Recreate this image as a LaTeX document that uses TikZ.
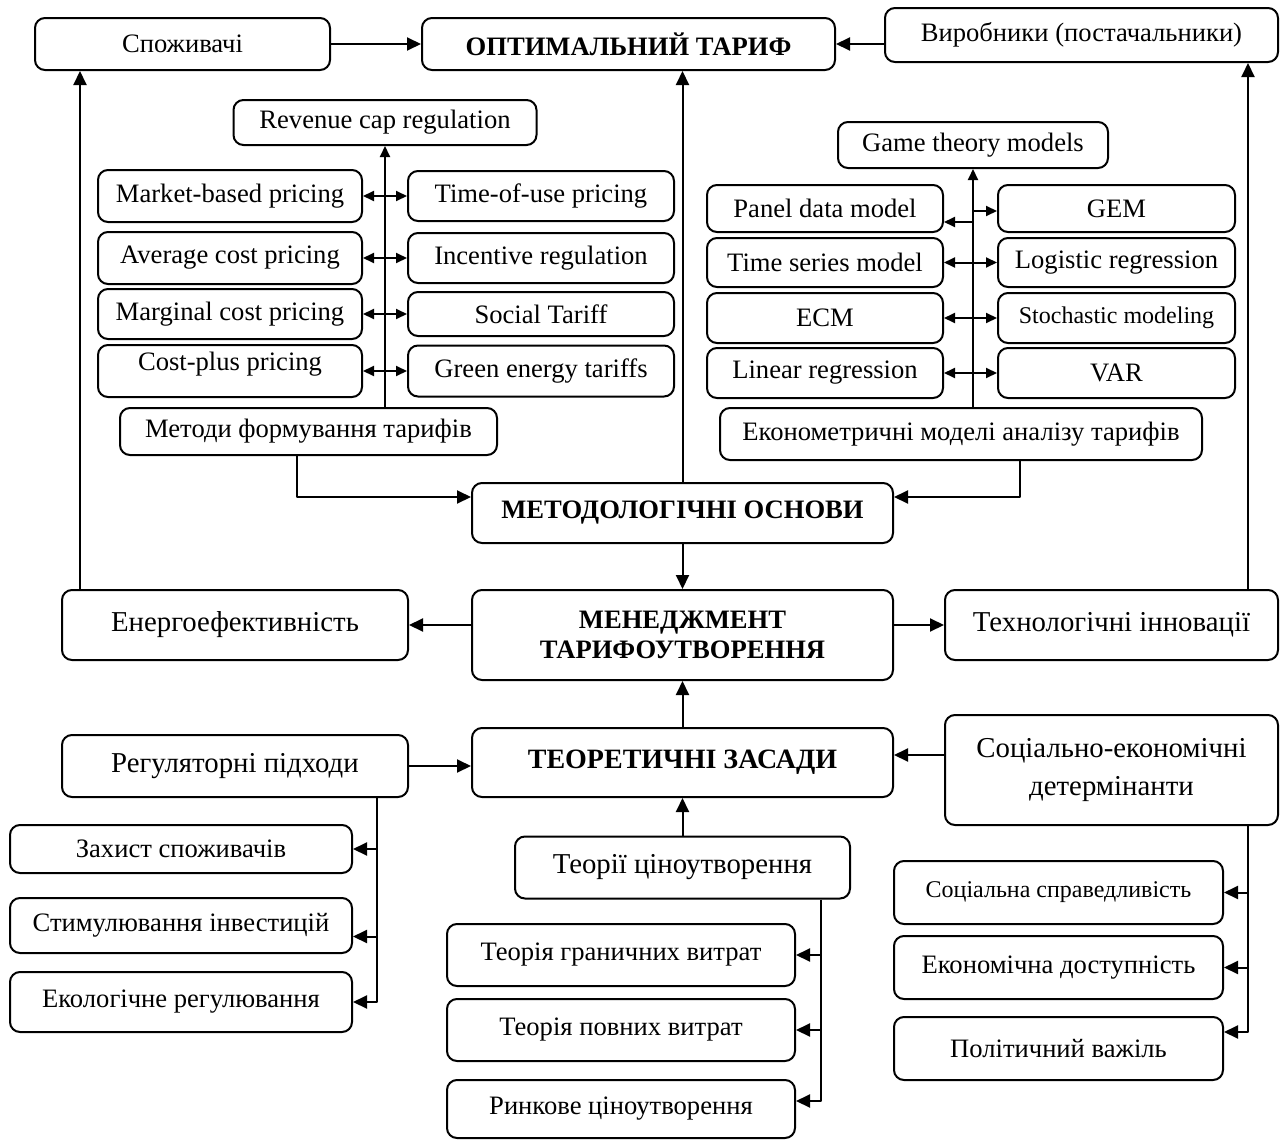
\documentclass[tikz,border=0pt]{standalone}
\usepackage{fontspec}
\setmainfont{Liberation Serif}
\usetikzlibrary{arrows.meta}
\begin{document}
\begin{tikzpicture}[x=.5pt,y=-.5pt,line join=round,>={Triangle[length=7pt,width=6.5pt]},line width=1pt,
	font=\fontsize{13.3}{16}\selectfont,
	box/.style={draw,rounded corners=5pt,align=center,inner sep=2pt},
	sz/.style 2 args={minimum width=#1*.5pt,minimum height=#2*.5pt},
	bigtxt/.style={font=\fontsize{14.4}{19}\selectfont},
	smalltxt/.style={font=\fontsize{12}{14}\selectfont},
	head/.style={box,font=\fontsize{13.3}{15}\selectfont\bfseries},
	tip/.style={>={Triangle[length=5.5pt,width=5pt]}}]
			\useasboundingbox (0,0) rectangle (1281,1140);
			\node[box,sz={295}{52}] (cons) at (182.5,44) {Споживачі};
			\node[head,sz={413}{52}] (opt) at (628.5,44) {ОПТИМАЛЬНИЙ ТАРИФ};
			\node[box,sz={393}{54}] (prod) at (1081.5,35) {Виробники (постачальники)};
			\node[box,sz={303}{45}] (rev) at (385,122.5) {Revenue cap regulation};
			\node[box,sz={264}{52}] (mbp) at (230,196) {Market-based pricing};
			\node[box,sz={264}{52}] (acp) at (230,258) {Average cost pricing};
			\node[box,sz={264}{50}] (mcp) at (230,314) {Marginal cost pricing};
			\node[box,sz={264}{52},text depth=10pt] (cpp) at (230,371) {Cost-plus pricing};
			\node[box,sz={266}{50}] (tou) at (541,196) {Time-of-use pricing};
			\node[box,sz={266}{50}] (inc) at (541,258) {Incentive regulation};
			\node[box,sz={266}{44}] (soc) at (541,314) {Social Tariff};
			\node[box,sz={266}{51}] (get) at (541,371) {Green energy tariffs};
			\node[box,sz={377}{47}] (meth) at (308.5,431.5) {Методи формування тарифів};
			\node[box,sz={270}{46}] (game) at (973,145) {Game theory models};
			\node[box,sz={236}{47}] (pdm) at (825,208.5) {Panel data model};
			\node[box,sz={236}{49}] (tsm) at (825,262.5) {Time series model};
			\node[box,sz={236}{50}] (ecm) at (825,318) {ECM};
			\node[box,sz={236}{50}] (lin) at (825,373) {Linear regression};
			\node[box,sz={237}{47}] (gem) at (1116.5,208.5) {GEM};
			\node[box,sz={237}{49}] (lgr) at (1116.5,262.5) {Logistic regression};
			\node[box,smalltxt,sz={237}{50}] (stm) at (1116.5,318) {Stochastic modeling};
			\node[box,sz={237}{50}] (vam) at (1116.5,373) {VAR};
			\node[box,sz={482}{52}] (econ) at (961,434) {Економетричні моделі аналізу тарифів};
			\node[head,sz={421}{60}] (mf) at (682.5,513) {МЕТОДОЛОГІЧНІ ОСНОВИ};
			\node[box,bigtxt,sz={346}{70}] (energy) at (235,625) {Енергоефективність};
			\node[head,sz={421}{90}] (mgmt) at (682.5,635) {МЕНЕДЖМЕНТ\\ТАРИФОУТВОРЕННЯ};
			\node[box,bigtxt,sz={333}{70}] (tech) at (1111.5,625) {Технологічні інновації};
			\node[box,bigtxt,sz={346}{62}] (reg) at (235,766) {Регуляторні підходи};
			\node[head,font=\fontsize{14}{16}\selectfont\bfseries,sz={421}{69}] (theo) at (682.5,762.5) {ТЕОРЕТИЧНІ ЗАСАДИ};
			\node[box,bigtxt,sz={333}{110}] (socio) at (1111.5,770) {Соціально-економічні\\детермінанти};
			\node[box,bigtxt,sz={335}{62}] (pt) at (682.5,867.5) {Теорії ціноутворення};
			\node[box,sz={342}{48}] (zah) at (181,849) {Захист споживачів};
			\node[box,sz={342}{55}] (stim) at (181,925.5) {Стимулювання інвестицій};
			\node[box,sz={342}{60}] (eco) at (181,1002) {Екологічне регулювання};
			\node[box,sz={348}{62}] (tmc) at (621,955) {Теорія граничних витрат};
			\node[box,sz={348}{62}] (tfc) at (621,1030) {Теорія повних витрат};
			\node[box,sz={348}{58}] (mkt) at (621,1109) {Ринкове ціноутворення};
			\node[box,smalltxt,sz={329}{63}] (just) at (1058.5,892.5) {Соціальна справедливість};
			\node[box,sz={329}{63}] (acc) at (1058.5,967.5) {Економічна доступність};
			\node[box,sz={329}{63}] (pol) at (1058.5,1048.5) {Політичний важіль};
			\draw[->] (cons) -- (opt);
			\draw[->] (prod.west |- opt) -- (opt);
			\coordinate (e0) at ([xshift=-77.5pt]energy.north);
			\draw[->] (e0) -- (e0 |- cons.south);
			\draw[->] (mf) -- (mf |- opt.south);
			\coordinate (t0) at ([xshift=68.25pt]tech.north);
			\draw[->] (t0) -- (t0 |- prod.south);
			\begin{scope}[tip]
				\draw[->] (rev.south |- meth.north) -- (rev);
				\draw[<->] (mbp) -- (tou);
				\draw[<->] (acp) -- (inc);
				\draw[<->] (mcp) -- (soc);
				\draw[<->] (cpp) -- (get);
				\draw[->] (game.south |- econ.north) -- (game);
				\coordinate (g1) at ([yshift=-1.25pt]gem.west);
				\coordinate (p1) at ([yshift=-6.75pt]pdm.east);
				\draw[->] (game.south |- g1) -- (g1);
				\draw[->] (game.south |- p1) -- (p1);
				\draw[<->] (tsm) -- (lgr);
				\draw[<->] (ecm) -- (stm);
				\draw[<->] (lin) -- (vam);
			\end{scope}
			\coordinate (m0) at ([xshift=-5.75pt]meth.south);
			\coordinate (m1) at ([yshift=8pt]mf.west);
			\draw[->] (m0) |- (m1);
			\coordinate (k0) at ([xshift=29.5pt]econ.south);
			\coordinate (k1) at ([yshift=8pt]mf.east);
			\draw[->] (k0) |- (k1);
			\draw[->] (mf) -- (mgmt);
			\draw[->] (mgmt.west |- energy) -- (energy);
			\draw[->] (mgmt.east |- tech) -- (tech);
			\draw[->] (theo) -- (mgmt);
			\draw[->] (reg) -- (reg -| theo.west);
			\coordinate (s0) at ([yshift=7.5pt]socio.west);
			\draw[->] (s0) -- (s0 -| theo.east);
			\draw[->] (pt) -- (theo);
			\coordinate (r0) at ([xshift=70.75pt]reg.south);
			\coordinate (r2) at ([yshift=-5.5pt]stim.east);
			\draw[->] (r0) |- (eco);
			\draw[->] (r0 |- zah) -- (zah);
			\draw[->] (r0 |- r2) -- (r2);
			\coordinate (q0) at ([xshift=69.25pt]pt.south);
			\coordinate (q3) at ([yshift=4pt]mkt.east);
			\draw[->] (q0) |- (q3);
			\draw[->] (q0 |- tmc) -- (tmc);
			\draw[->] (q0 |- tfc) -- (tfc);
			\coordinate (u0) at ([xshift=68.25pt]socio.south);
			\coordinate (u3) at ([yshift=8.25pt]pol.east);
			\draw[->] (u0) |- (u3);
			\draw[->] (u0 |- just) -- (just);
			\draw[->] (u0 |- acc) -- (acc);
	\end{tikzpicture}
\end{document}
